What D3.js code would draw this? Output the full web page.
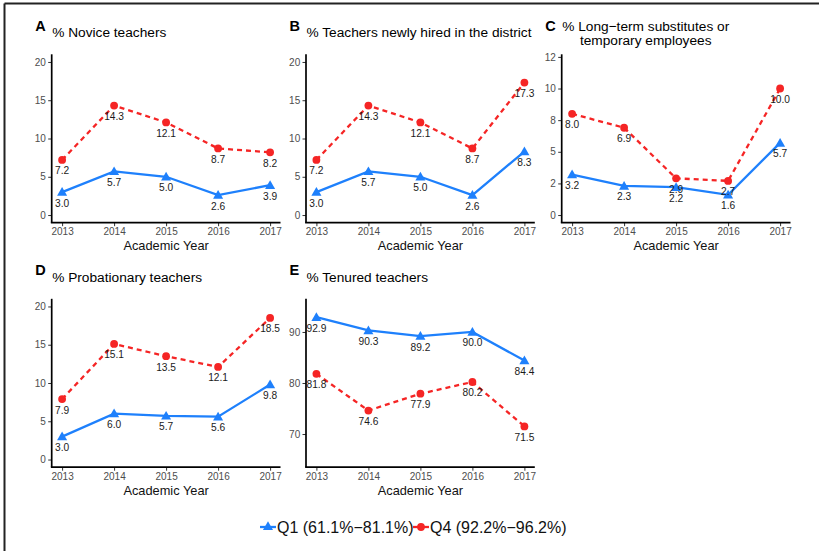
<!DOCTYPE html>
<html>
<head>
<meta charset="utf-8">
<script src="https://cdn.jsdelivr.net/npm/d3@7"></script>
<style>
  html, body { margin: 0; padding: 0; background: #fff; }
  svg { display: block; font-family: "Liberation Sans", Arial, Helvetica, sans-serif; }
</style>
</head>
<body>
<svg id="chart" width="819" height="551"></svg>
<script>
// ---- data ----
const years = [2013, 2014, 2015, 2016, 2017];
const seriesNames = ["Q1 (61.1%\u221281.1%)", "Q4 (92.2%\u221296.2%)"];

const panelLetters = ["A", "B", "C", "D", "E"];
const panelTitles = [
  ["% Novice teachers"],
  ["% Teachers newly hired in the district"],
  ["% Long\u2212term substitutes or", "temporary employees"],
  ["% Probationary teachers"],
  ["% Tenured teachers"]
];

const noviceQ1 = [3.0, 5.7, 5.0, 2.6, 3.9];
const noviceQ4 = [7.2, 14.3, 12.1, 8.7, 8.2];
const newHireQ1 = [3.0, 5.7, 5.0, 2.6, 8.3];
const newHireQ4 = [7.2, 14.3, 12.1, 8.7, 17.3];
const substituteQ1 = [3.2, 2.3, 2.2, 1.6, 5.7];
const substituteQ4 = [8.0, 6.9, 2.9, 2.7, 10.0];
const probationQ1 = [3.0, 6.0, 5.7, 5.6, 9.8];
const probationQ4 = [7.9, 15.1, 13.5, 12.1, 18.5];
const tenuredQ1 = [92.9, 90.3, 89.2, 90.0, 84.4];
const tenuredQ4 = [81.8, 74.6, 77.9, 80.2, 71.5];

const yLimits = [[0, 20], [0, 20], [0, 12.1], [0, 20], [65, 95]];
const yTickValues = [
  [0, 5, 10, 15, 20],
  [0, 5, 10, 15, 20],
  [0, 2.5, 5, 7.5, 10, 12.5],
  [0, 5, 10, 15, 20],
  [70, 80, 90]
];
const yTickLabels = [
  ["0", "5", "10", "15", "20"],
  ["0", "5", "10", "15", "20"],
  ["0", "2", "5", "8", "10", "12"],
  ["0", "5", "10", "15", "20"],
  ["70", "80", "90"]
];
const xTickLabels = ["2013", "2014", "2015", "2016", "2017"];
const xAxisTitle = "Academic Year";

const panelQ1 = [noviceQ1, newHireQ1, substituteQ1, probationQ1, tenuredQ1];
const panelQ4 = [noviceQ4, newHireQ4, substituteQ4, probationQ4, tenuredQ4];

// ---- styling ----
const blue = "#1e80fc";
const red = "#f52525";
const tickGrey = "#4d4d4d";

const svg = d3.select("#chart");

// outer frame (top and left edges)
svg.append("line").attr("x1", 4.5).attr("x2", 819).attr("y1", 3.5).attr("y2", 3.5)
  .attr("stroke", "#222").attr("stroke-width", 2);
svg.append("line").attr("x1", 4.5).attr("x2", 4.5).attr("y1", 3.5).attr("y2", 551)
  .attr("stroke", "#222").attr("stroke-width", 2);

// panel grid geometry
const colLeft = [51.7, 306, 561.7];
const rowTop = [54.3, 298.8];
const panelW = 228.8;
const panelH = 168.4;

function expand(lim) {
  const pad = (lim[1] - lim[0]) * 0.05;
  return [lim[0] - pad, lim[1] + pad];
}

const triangle = d3.symbol().type(d3.symbolTriangle).size(44);

panelLetters.forEach((letter, i) => {
  const left = colLeft[i % 3];
  const top = rowTop[Math.floor(i / 3)];
  const g = svg.append("g").attr("transform", `translate(${left},${top})`);

  const x = d3.scaleLinear().domain(expand([years[0], years[years.length - 1]])).range([0, panelW]);
  const y = d3.scaleLinear().domain(expand(yLimits[i])).range([panelH, 0]);

  // y axis
  const yAxis = d3.axisLeft(y).tickValues(yTickValues[i])
    .tickFormat((d, k) => yTickLabels[i][k]).tickSize(3.5).tickPadding(2.3);
  const ya = g.append("g").call(yAxis);
  ya.select(".domain").remove();
  ya.selectAll(".tick line").attr("stroke", "#333").attr("stroke-width", 1);
  ya.selectAll(".tick text").attr("fill", tickGrey).style("font-size", "10px")
    .style("font-family", "inherit");

  // x axis
  const xAxis = d3.axisBottom(x).tickValues(years)
    .tickFormat((d, k) => xTickLabels[k]).tickSize(3.5).tickPadding(2);
  const xa = g.append("g").attr("transform", `translate(0,${panelH})`).call(xAxis);
  xa.select(".domain").remove();
  xa.selectAll(".tick line").attr("stroke", "#333").attr("stroke-width", 1);
  xa.selectAll(".tick text").attr("fill", tickGrey).style("font-size", "10px")
    .style("font-family", "inherit");

  // axis lines
  g.append("line").attr("x1", 0).attr("x2", 0).attr("y1", 0).attr("y2", panelH)
    .attr("stroke", "#000").attr("stroke-width", 1.7);
  g.append("line").attr("x1", -0.85).attr("x2", panelW).attr("y1", panelH).attr("y2", panelH)
    .attr("stroke", "#000").attr("stroke-width", 1.7);

  // axis title
  g.append("text").attr("x", panelW / 2).attr("y", panelH + 27.5)
    .attr("text-anchor", "middle").style("font-size", "12.8px").attr("fill", "#111")
    .text(xAxisTitle);

  // panel letter and title
  g.append("text").attr("x", -16.5).attr("y", -23.5)
    .style("font-size", "14.5px").style("font-weight", "bold").attr("fill", "#000")
    .text(letter);
  const lines = panelTitles[i];
  const titleG = g.append("g");
  const firstLine = titleG.append("text").attr("x", 0.5).attr("y", lines.length > 1 ? -23.8 : -17)
    .style("font-size", "13.7px").attr("fill", "#000").text(lines[0]);
  if (lines.length > 1) {
    const w = firstLine.node().getComputedTextLength();
    titleG.append("text").attr("x", 0.5 + w / 2).attr("y", -9.5)
      .attr("text-anchor", "middle").style("font-size", "13.7px").attr("fill", "#000")
      .text(lines[1]);
  }

  const q1 = years.map((yr, k) => ({ yr, v: panelQ1[i][k] }));
  const q4 = years.map((yr, k) => ({ yr, v: panelQ4[i][k] }));
  const line = d3.line().x(d => x(d.yr)).y(d => y(d.v));

  // Q4 dashed line with circles
  g.append("path").datum(q4).attr("d", line).attr("fill", "none")
    .attr("stroke", red).attr("stroke-width", 2.3).attr("stroke-dasharray", "5,4");
  // Q1 solid line with triangles
  g.append("path").datum(q1).attr("d", line).attr("fill", "none")
    .attr("stroke", blue).attr("stroke-width", 2.3);

  g.selectAll(".pt4").data(q4).join("circle")
    .attr("cx", d => x(d.yr)).attr("cy", d => y(d.v)).attr("r", 3.9).attr("fill", red);
  g.selectAll(".pt1").data(q1).join("path")
    .attr("d", triangle)
    .attr("transform", d => `translate(${x(d.yr)},${y(d.v) + 0.8})`).attr("fill", blue);

  // value labels under each point
  [q4, q1].forEach(series => {
    g.selectAll(null).data(series).join("text")
      .attr("x", d => x(d.yr)).attr("y", d => y(d.v) + 14.5)
      .attr("text-anchor", "middle").style("font-size", "10.2px").attr("fill", "#1a1a1a")
      .text(d => d.v.toFixed(1));
  });
});

// legend
const legend = svg.append("g").attr("transform", "translate(0,527)");
const legendItems = [
  { name: seriesNames[0], color: blue, shape: "triangle", x0: 260 },
  { name: seriesNames[1], color: red, shape: "circle", x0: 413 }
];
legendItems.forEach(item => {
  legend.append("line").attr("x1", item.x0).attr("x2", item.x0 + 16)
    .attr("y1", 0).attr("y2", 0).attr("stroke", item.color).attr("stroke-width", 2.3);
  if (item.shape === "triangle") {
    legend.append("path").attr("d", triangle).attr("transform", `translate(${item.x0 + 8},0)`)
      .attr("fill", item.color);
  } else {
    legend.append("circle").attr("cx", item.x0 + 8).attr("cy", 0).attr("r", 3.9)
      .attr("fill", item.color);
  }
  legend.append("text").attr("x", item.x0 + 17).attr("y", 5.7)
    .style("font-size", "16px").attr("fill", "#111").text(item.name);
});
</script>
</body>
</html>
